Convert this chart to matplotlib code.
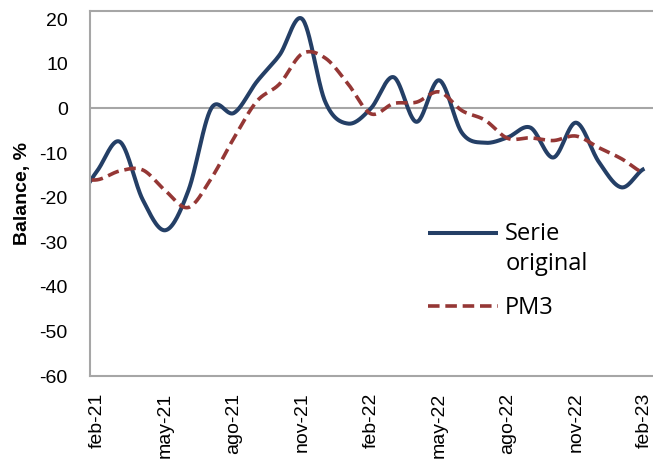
import numpy as np
import matplotlib
matplotlib.use("Agg")
import matplotlib.pyplot as plt

plt.rcParams['font.family'] = ['Liberation Sans', 'DejaVu Sans']

# monthly data, ene-21 .. feb-23 (ene-21 sits just outside the left edge)
meses = ['ene-21', 'feb-21', 'mar-21', 'abr-21', 'may-21', 'jun-21', 'jul-21',
         'ago-21', 'sep-21', 'oct-21', 'nov-21', 'dic-21', 'ene-22', 'feb-22',
         'mar-22', 'abr-22', 'may-22', 'jun-22', 'jul-22', 'ago-22', 'sep-22',
         'oct-22', 'nov-22', 'dic-22', 'ene-23', 'feb-23']
serie_original = [-21, -14, -7.5, -20.5, -27.3, -18.4, 0, -1, 6, 12, 20, 1.5,
                  -3.4, 0, 7, -3, 6.3, -5.5, -7.7, -6.5, -4.3, -11, -3.2, -12,
                  -17.7, -13.5]
pm3 = [-15.5, -16, -14, -13.8, -18.5, -22.2, -15.7, -6.6, 1.6, 5.5, 12.3, 11.3,
       5.5, -1.2, 1.1, 1.4, 3.7, -0.5, -2.6, -6.7, -6.6, -7.2, -6.2, -8.8,
       -11.3, -14.5]
yticks = [-60, -50, -40, -30, -20, -10, 0, 10, 20]


def smooth(y, n=30):
    # catmull-rom curve through the points, like excel "smoothed line"
    y = np.asarray(y, dtype=float)
    p = np.concatenate([[y[0]], y, [y[-1]]])
    xs, ys = [], []
    t = np.linspace(0, 1, n, endpoint=False)
    for i in range(len(y) - 1):
        p0, p1, p2, p3 = p[i], p[i + 1], p[i + 2], p[i + 3]
        m1, m2 = (p2 - p0) / 2, (p3 - p1) / 2
        h00 = 2 * t**3 - 3 * t**2 + 1
        h10 = t**3 - 2 * t**2 + t
        h01 = -2 * t**3 + 3 * t**2
        h11 = t**3 - t**2
        xs.append(i + t)
        ys.append(h00 * p1 + h10 * m1 + h01 * p2 + h11 * m2)
    xs.append([len(y) - 1])
    ys.append([y[-1]])
    return np.concatenate(xs), np.concatenate(ys)


x0 = -1  # position of first month (ene-21) relative to feb-21
fig = plt.figure(figsize=(6.53, 4.66), dpi=100)
ax = fig.add_axes([0.1378, 0.193, 0.8622, 0.783])

xs, ys = smooth(serie_original)
ax.plot(xs + x0, ys, color='#243F66', lw=2.9, solid_capstyle='butt',
        label='Serie\noriginal')
xs, ys = smooth(pm3)
ax.plot(xs + x0, ys, color='#953735', lw=2.6, linestyle=(0, (3.2, 1.6)),
        label='PM3')

gray = '#A6A6A6'
ax.axhline(0, color=gray, lw=1.5, zorder=0)
for s in ['left', 'bottom', 'top']:
    ax.spines[s].set_color(gray)
    ax.spines[s].set_linewidth(1.5)
ax.spines['right'].set_visible(False)

ax.set_xlim(-0.316, 24.375)
ax.set_ylim(-60, 21.8)
ax.set_yticks(yticks)
ax.set_yticklabels([str(v) for v in yticks])
tick_pos = list(range(0, 25, 3))
ax.set_xticks(tick_pos)
ax.set_xticklabels([meses[i - x0] for i in tick_pos], rotation=90)
ax.tick_params(axis='y', length=0, pad=16, labelsize=14)
ax.tick_params(axis='x', length=0, pad=12, labelsize=14)
ax.set_ylabel('Balance, %', fontsize=14, fontweight='bold', labelpad=6)

leg = ax.legend(frameon=False, loc='upper left',
                bbox_to_anchor=(428 / 653, 1 - 222 / 466),
                bbox_transform=fig.transFigure, borderpad=0, borderaxespad=0,
                prop={'family': 'Open Sans', 'size': 17},
                handlelength=2.97, handletextpad=0.3, labelspacing=0.85)
for t in leg.get_texts():
    t.set_linespacing(1.35)
# put the blue key on the first text line, as in the original
h = leg.legend_handles[0]
h.set_ydata(np.asarray(h.get_ydata()) + 12.3)

fig.savefig('out.png', dpi=100)
